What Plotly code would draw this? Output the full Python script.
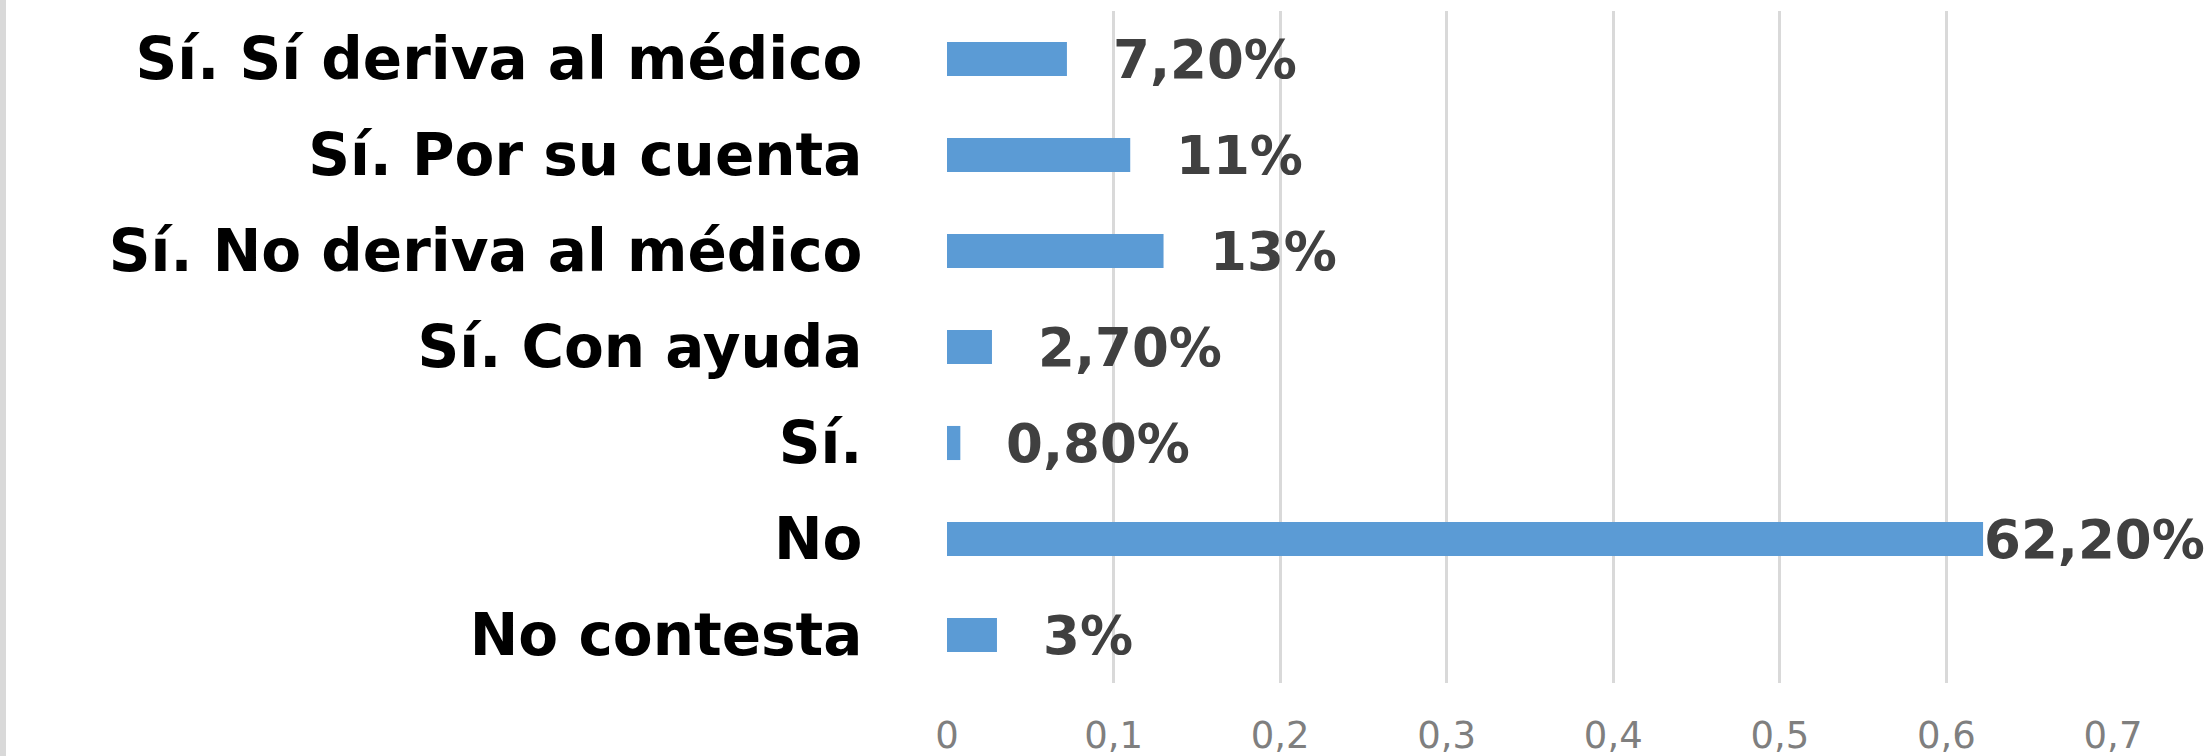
import plotly.graph_objects as go

categories = ["Sí. Sí deriva al médico", "Sí. Por su cuenta", "Sí. No deriva al médico",
              "Sí. Con ayuda", "Sí.", "No", "No contesta"]
values = [0.072, 0.11, 0.13, 0.027, 0.008, 0.622, 0.03]
labels = ["7,20%", "11%", "13%", "2,70%", "0,80%", "62,20%", "3%"]
label_shift = [45, 45, 45, 45, 45, 0, 45]
x_ticks = [0, 0.1, 0.2, 0.3, 0.4, 0.5, 0.6, 0.7]

W, H = 2211, 756
L, R, T, B = 947, 98, 11, 73
plot_w = W - L - R

fig = go.Figure()
fig.add_trace(go.Bar(
    x=values, y=categories, orientation="h",
    marker=dict(color="#5b9bd5", line=dict(width=0)),
    hoverinfo="skip",
))

for c, v, t, s in zip(categories, values, labels, label_shift):
    fig.add_annotation(x=v, y=c, text=t, showarrow=False, xanchor="left", yanchor="middle",
                       xshift=s, borderpad=0,
                       font=dict(family="DejaVu Sans", size=53, color="#404040", weight="bold"))

# light grey frame edge at the left of the picture
fig.add_shape(type="line", xref="paper", yref="paper",
              x0=-(L - 3) / plot_w, x1=-(L - 3) / plot_w, y0=-B / (H - T - B), y1=1 + T / (H - T - B),
              line=dict(color="#d9d9d9", width=6))

fig.update_layout(
    width=W, height=H,
    paper_bgcolor="white", plot_bgcolor="white",
    margin=dict(l=L, r=R, t=T, b=B, autoexpand=False),
    separators=",.",
    bargap=0.645,
    showlegend=False,
    xaxis=dict(range=[0, 0.7], tickvals=x_ticks, showgrid=True, gridcolor="#d9d9d9", gridwidth=3,
               zeroline=False, showline=False, ticks="outside", ticklen=20,
               tickcolor="rgba(0,0,0,0)", automargin=False,
               tickfont=dict(family="DejaVu Sans", size=37, color="#7f7f7f")),
    yaxis=dict(categoryorder="array", categoryarray=categories, autorange="reversed",
               showgrid=False, zeroline=False, showline=False, ticks="outside", ticklen=72,
               tickcolor="rgba(0,0,0,0)", automargin=False,
               tickfont=dict(family="DejaVu Sans", size=58, color="#000000", weight="bold")),
)

fig.write_html("out.html", config={"displayModeBar": False},
               post_script="document.body.style.margin='0';")
